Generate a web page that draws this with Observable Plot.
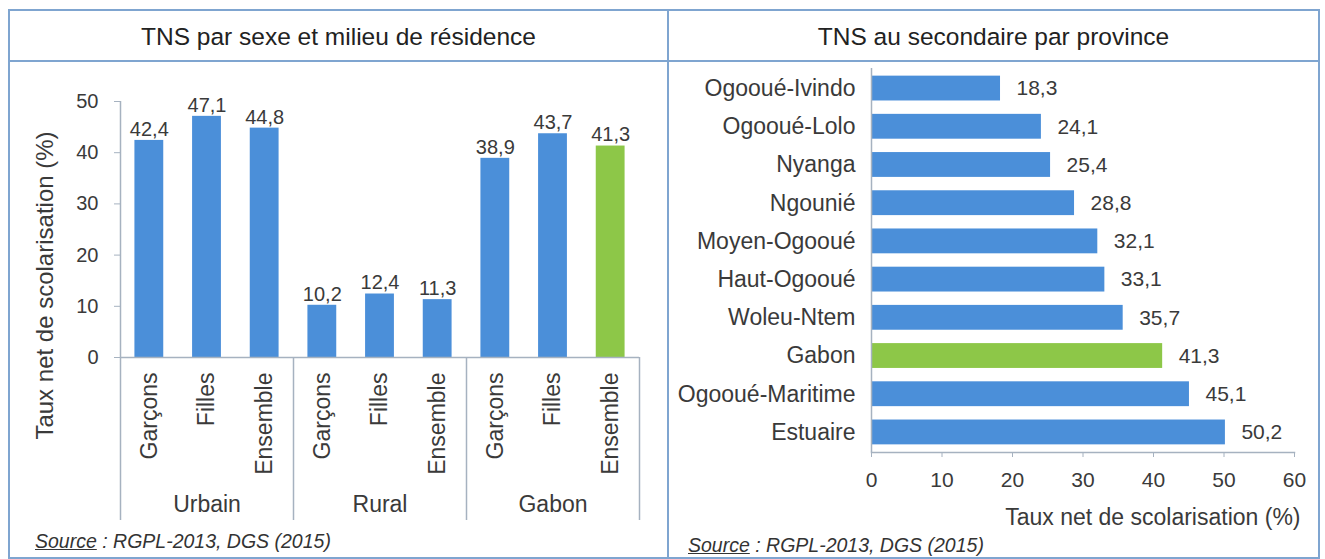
<!DOCTYPE html>
<html>
<head>
<meta charset="utf-8">
<script src="https://cdn.jsdelivr.net/npm/d3@7"></script>
<script src="https://cdn.jsdelivr.net/npm/@observablehq/plot@0.6"></script>
<style>
  body { margin: 0; background: #fff; font-family: "Liberation Sans", Arial, sans-serif; }
  #page { position: relative; width: 1325px; height: 559px; overflow: hidden; background: #fff; }
  .frame { position: absolute; left: 8px; top: 9px; width: 1312px; height: 550px; border: 2px solid #7fa5d0; box-sizing: border-box; }
  .hline { position: absolute; left: 8px; top: 60px; width: 1312px; height: 2px; background: #7fa5d0; }
  .vline { position: absolute; left: 667px; top: 9px; width: 2px; height: 550px; background: #7fa5d0; }
  .title { position: absolute; top: 22px; height: 30px; line-height: 30px; text-align: center; font-size: 24.5px; color: #222; }
  #t1 { left: 10px; width: 657px; }
  #t2 { left: 669px; width: 649px; }
  #c1 { position: absolute; left: 10px; top: 62px; }
  #c2 { position: absolute; left: 669px; top: 62px; }
  .src { position: absolute; font-size: 19.5px; font-style: italic; color: #333; height: 24px; line-height: 24px; white-space: nowrap; }
  .src u { text-decoration: underline; }
  #s1 { left: 35px; top: 529px; }
  #s2 { left: 688px; top: 533px; }
</style>
</head>
<body>
<div id="page">
  <div class="frame"></div>
  <div class="hline"></div>
  <div class="vline"></div>
  <div class="title" id="t1">TNS par sexe et milieu de résidence</div>
  <div class="title" id="t2">TNS au secondaire par province</div>
  <div id="c1"></div>
  <div id="c2"></div>
  <div class="src" id="s1"><u>Source</u> : RGPL-2013, DGS (2015)</div>
  <div class="src" id="s2"><u>Source</u> : RGPL-2013, DGS (2015)</div>
</div>
<script>
// ---------- data ----------
const groups = ["Urbain", "Rural", "Gabon"];
const sexes = ["Garçons", "Filles", "Ensemble"];
const urbainValues = [42.4, 47.1, 44.8];
const ruralValues = [10.2, 12.4, 11.3];
const gabonValues = [38.9, 43.7, 41.3];
const yTicks = [0, 10, 20, 30, 40, 50];
const yLabel = "Taux net de scolarisation (%)";

const provinces = ["Ogooué-Ivindo", "Ogooué-Lolo", "Nyanga", "Ngounié", "Moyen-Ogooué",
                   "Haut-Ogooué", "Woleu-Ntem", "Gabon", "Ogooué-Maritime", "Estuaire"];
const provinceValues = [18.3, 24.1, 25.4, 28.8, 32.1, 33.1, 35.7, 41.3, 45.1, 50.2];
const xTicks = [0, 10, 20, 30, 40, 50, 60];
const xLabel = "Taux net de scolarisation (%)";

// ---------- styles ----------
const BLUE = "#4b8fd9";
const GREEN = "#8dc748";
const AXIS = "#a6b2c0";
const TXT = "#3a3a3a";
const FONT = '"Liberation Sans", Arial, sans-serif';
const fmt = v => v.toFixed(1).replace(".", ",");

// ---------- left chart ----------
const groupValues = [urbainValues, ruralValues, gabonValues];
const rows = groups.flatMap((g, i) => sexes.map((s, j) => ({group: g, sex: s, value: groupValues[i][j]})));
const isHighlight = d => d.group === groups[groups.length - 1] && d.sex === sexes[sexes.length - 1];

const W1 = 657, H1 = 470, mL1 = 110, mR1 = 28, mT1 = 39, mB1 = 175;
const facetW = (W1 - mL1 - mR1) / groups.length;
const step = facetW / sexes.length;

const sepLeft = groups.map((g, i) => ({group: g, sex: sexes[0], top: i === 0 ? d3.max(yTicks) : 0}));
const sepRight = [{group: groups[groups.length - 1], sex: sexes[sexes.length - 1], top: 0}];

const left = Plot.plot({
  width: W1, height: H1,
  marginLeft: mL1, marginRight: mR1, marginTop: mT1, marginBottom: mB1,
  style: {fontFamily: FONT, color: TXT, background: "transparent", overflow: "visible"},
  fx: {domain: groups, padding: 0},
  x: {domain: sexes, paddingInner: 0.5, paddingOuter: 0.25, round: false},
  y: {domain: [0, d3.max(yTicks)]},
  marks: [
    Plot.barY(rows, {fx: "group", x: "sex", y: "value", fill: d => isHighlight(d) ? GREEN : BLUE}),
    Plot.text(rows, {fx: "group", x: "sex", y: "value", text: d => fmt(d.value), dy: -11, fontSize: 20, fill: TXT}),
    Plot.ruleY([0], {stroke: AXIS, strokeWidth: 1.5}),
    Plot.ruleX(sepLeft, {fx: "group", x: "sex", y1: "top", y2: 0, dx: -step / 2, insetBottom: -163, stroke: AXIS, strokeWidth: 1.5}),
    Plot.ruleX(sepRight, {fx: "group", x: "sex", y1: "top", y2: 0, dx: step / 2, insetBottom: -163, stroke: AXIS, strokeWidth: 1.5}),
    Plot.axisY({ticks: yTicks, tickSize: 6, tickPadding: 16, fontSize: 20, label: null, stroke: AXIS, fill: TXT}),
    Plot.axisX({tickRotate: -90, tickSize: 0, tickPadding: 15, fontSize: 23, label: null, fill: TXT}),
    Plot.axisFx({anchor: "bottom", tickSize: 0, tickPadding: 138, fontSize: 23, label: null, fill: TXT}),
    Plot.text([yLabel], {fx: [groups[0]], text: d => d, frameAnchor: "left", textAnchor: "middle", rotate: -90, dx: -75, dy: 56, fontSize: 24, fill: TXT})
  ]
});
document.getElementById("c1").appendChild(left);

// ---------- right chart ----------
const prov = provinces.map((p, i) => ({name: p, value: provinceValues[i]}));
const W2 = 648, H2 = 470;
const right = Plot.plot({
  width: W2, height: H2,
  marginLeft: 202, marginRight: 23, marginTop: 6, marginBottom: 80,
  style: {fontFamily: FONT, color: TXT, background: "transparent", overflow: "visible"},
  x: {domain: [0, d3.max(xTicks)]},
  y: {domain: provinces, paddingInner: 0.35, paddingOuter: 0.2, round: false},
  marks: [
    Plot.barX(prov, {x: "value", y: "name", fill: d => d.name === "Gabon" ? GREEN : BLUE}),
    Plot.text(prov, {x: "value", y: "name", text: d => fmt(d.value), textAnchor: "start", dx: 16, fontSize: 21, fill: TXT}),
    Plot.ruleX([0], {stroke: AXIS, strokeWidth: 1.5}),
    Plot.frame({anchor: "bottom", stroke: AXIS, strokeWidth: 1.5}),
    Plot.axisX({ticks: xTicks, tickSize: 5, tickPadding: 15, fontSize: 21, label: null, stroke: AXIS, fill: TXT}),
    Plot.axisY({tickSize: 0, tickPadding: 16, fontSize: 23, label: null, fill: TXT}),
    Plot.text([xLabel], {text: d => d, frameAnchor: "bottom-right", textAnchor: "end", dx: 6, dy: 72, fontSize: 23, fill: TXT})
  ]
});
document.getElementById("c2").appendChild(right);
</script>
</body>
</html>
